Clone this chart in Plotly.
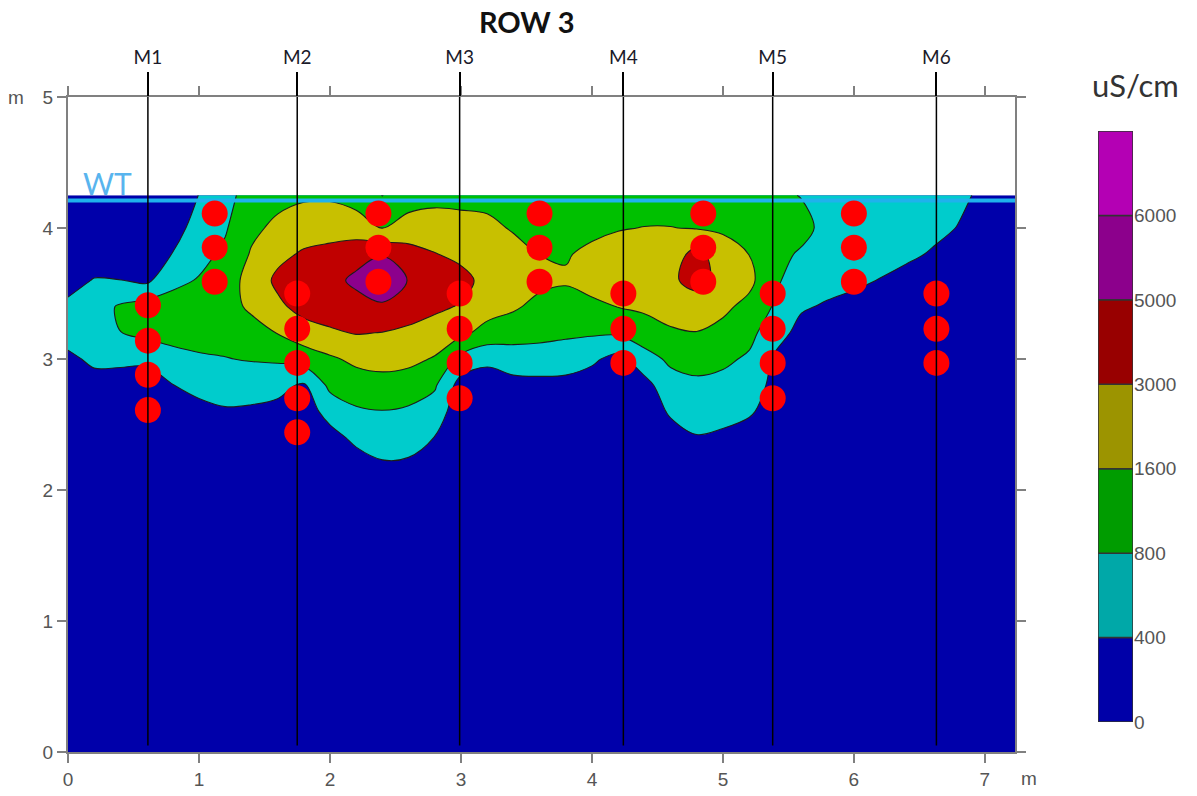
import numpy as np
import plotly.graph_objects as go

# ---- survey grid -------------------------------------------------------
# horizontal distance along the row (m)
dist_m = [0.0, 0.2, 0.4, 0.6, 0.8, 1.0, 1.2, 1.4, 1.6, 1.8, 2.0, 2.2, 2.4,
          2.6, 2.8, 3.0, 3.2, 3.4, 3.6, 3.8, 4.0, 4.2, 4.4, 4.6, 4.8, 5.0,
          5.2, 5.4, 5.6, 5.8, 6.0, 6.2, 6.4, 6.6, 6.8, 7.0, 7.25]
# grid levels (m above the base), listed top to bottom
level_m = [4.25, 4.0, 3.8, 3.6, 3.4, 3.2, 3.0, 2.8, 2.6, 2.4, 2.2, 2.0, 0.0]

# electrical conductivity (uS/cm), one list per grid level
ec_425 = [100, 100, 100, 100, 120, 408, 680, 1120, 1360, 1480, 1480, 1280, 792, 1320, 1400, 1400, 1400, 1200, 1160,
          1120, 1200, 1240, 1280, 1280, 1240, 1200, 1160, 1000, 780, 640, 620, 600, 560, 520, 460, 340, 240]
ec_400 = [100, 100, 112, 120, 240, 560, 764, 1424, 1908, 2370, 2482, 2258, 1560, 2034, 2160, 2020, 1866, 1544, 1400,
          1320, 1440, 1560, 1628, 1628, 1560, 1480, 1320, 1120, 1100, 640, 620, 580, 540, 480, 388, 280, 200]
ec_380 = [100, 208, 180, 200, 412, 692, 936, 1726, 2650, 3240, 3540, 4300, 4800, 3900, 3080, 2678, 2356, 1992, 1592,
          1544, 1866, 2104, 2230, 2370, 3600, 2230, 1592, 1080, 740, 600, 580, 520, 460, 372, 280, 200, 160]
ec_360 = [272, 420, 408, 320, 712, 848, 1200, 2132, 3400, 4200, 4400, 5200, 6300, 4840, 4100, 3600, 2580, 2342, 1950,
          1740, 2160, 2370, 2370, 2790, 3600, 2580, 1950, 920, 600, 520, 460, 388, 300, 240, 200, 160, 120]
ec_340 = [472, 632, 888, 1160, 1096, 1168, 1360, 1796, 2720, 3680, 3860, 4300, 4480, 3900, 3360, 2902, 2174, 1796,
          1376, 1288, 1416, 1628, 1838, 2076, 2356, 1880, 1384, 752, 440, 360, 300, 240, 200, 160, 140, 120, 100]
ec_320 = [532, 648, 796, 1008, 1048, 1064, 1056, 1352, 1642, 2398, 2832, 3100, 2972, 2748, 2412, 1894, 1336, 1144,
          1008, 936, 904, 912, 1232, 1512, 1576, 1384, 1032, 552, 280, 240, 200, 168, 140, 120, 120, 100, 100]
ec_300 = [332, 464, 476, 464, 684, 756, 788, 848, 904, 1144, 1480, 1908, 2062, 1936, 1536, 680, 480, 592, 636, 592,
          464, 280, 644, 944, 1072, 952, 744, 340, 200, 180, 152, 132, 120, 100, 100, 100, 100]
ec_280 = [200, 280, 240, 240, 392, 524, 580, 576, 528, 340, 992, 1216, 1328, 1232, 896, 240, 220, 280, 280, 280, 220,
          180, 260, 652, 724, 688, 580, 300, 152, 140, 120, 112, 100, 100, 100, 100, 100]
ec_260 = [120, 180, 160, 160, 240, 280, 360, 340, 280, 200, 548, 748, 788, 740, 616, 160, 140, 168, 168, 168, 140,
          128, 160, 452, 552, 512, 448, 240, 120, 120, 100, 100, 100, 100, 100, 100, 100]
ec_240 = [100, 120, 112, 112, 160, 180, 220, 220, 180, 140, 260, 492, 580, 548, 392, 120, 112, 120, 120, 120, 112,
          112, 120, 240, 380, 340, 240, 140, 100, 100, 100, 100, 100, 100, 100, 100, 100]
ec_220 = [100, 100, 100, 100, 112, 120, 140, 140, 120, 100, 160, 240, 368, 352, 220, 100, 100, 100, 100, 100, 100,
          100, 100, 140, 200, 180, 140, 100, 100, 100, 100, 100, 100, 100, 100, 100, 100]
ec_200 = [100, 100, 100, 100, 100, 100, 100, 100, 100, 100, 112, 140, 200, 200, 140, 100, 100, 100, 100, 100, 100,
          100, 100, 100, 120, 120, 100, 100, 100, 100, 100, 100, 100, 100, 100, 100, 100]
ec_000 = [100, 100, 100, 100, 100, 100, 100, 100, 100, 100, 100, 100, 100, 100, 100, 100, 100, 100, 100, 100, 100,
          100, 100, 100, 100, 100, 100, 100, 100, 100, 100, 100, 100, 100, 100, 100, 100]
ec_rows = [ec_425, ec_400, ec_380, ec_360, ec_340, ec_320, ec_300, ec_280,
           ec_260, ec_240, ec_220, ec_200, ec_000]

# class limits of the colour scale (uS/cm) and the upper cap of the last class
ec_limits = [0, 400, 800, 1600, 3000, 5000, 6000]
ec_cap = 7000

# probes along the row
probe_names = ["M1", "M2", "M3", "M4", "M5", "M6"]
probe_x = [0.61, 1.75, 2.99, 4.24, 5.38, 6.63]

# sampling points: position along the row and the levels sampled there
sample_x = [0.61, 1.12, 1.75, 2.37, 2.99, 3.60, 4.24, 4.85, 5.38, 6.00, 6.63]
sample_levels = [
    [3.41, 3.14, 2.88, 2.61],
    [4.11, 3.85, 3.59],
    [3.50, 3.23, 2.97, 2.70, 2.44],
    [4.11, 3.85, 3.59],
    [3.50, 3.23, 2.97, 2.70],
    [4.11, 3.85, 3.59],
    [3.50, 3.23, 2.97],
    [4.11, 3.85, 3.59],
    [3.50, 3.23, 2.97, 2.70],
    [4.11, 3.85, 3.59],
    [3.50, 3.23, 2.97],
]

water_table_m = 4.21

# ---- styling -----------------------------------------------------------
fill_colors = ["#0000AA", "#00CCCC", "#00C000", "#C8C000", "#C00000", "#8C008C", "#FF00FF"]
legend_colors = ["#0000A8", "#00A8A8", "#009C00", "#9C9400", "#980000", "#8C008C", "#B400B4"]
x_max = 7.23
y_max = 5.0
frame_col = "#808080"
tick_font = dict(family="Liberation Sans, Arial, sans-serif", size=19, color="#555555")
label_font = "Lato, 'Open Sans', sans-serif"

# ---- class index (equal steps on the colour bar) -------------------------
class_edges = ec_limits + [ec_cap]
class_idx = np.interp(np.array(ec_rows[::-1], dtype=float),
                      class_edges, np.arange(len(class_edges)))
levels_up = level_m[::-1]
n_cls = len(ec_limits)

fig = go.Figure()

fig.add_trace(go.Contour(
    x=dist_m, y=levels_up, z=class_idx,
    autocontour=False,
    contours=dict(start=1, end=n_cls - 1, size=1, coloring="fill", showlines=True),
    colorscale=[[i / (n_cls - 1), c] for i, c in enumerate(fill_colors)],
    line=dict(color="#1c1c1c", width=1.1, smoothing=1.0),
    showscale=False, hoverinfo="skip",
))

# probe lines (drawn on the top axis, which carries the probe names)
px_line, py_line = [], []
for p in probe_x:
    px_line += [p, p, None]
    py_line += [0.05, y_max, None]
fig.add_trace(go.Scatter(
    x=px_line, y=py_line, mode="lines", xaxis="x2", yaxis="y",
    line=dict(color="#000000", width=1.5), hoverinfo="skip", showlegend=False,
))

# water table
fig.add_trace(go.Scatter(
    x=[0, x_max], y=[water_table_m, water_table_m], mode="lines",
    line=dict(color="#1FB2EC", width=4), hoverinfo="skip", showlegend=False,
))

# sampling points
dot_x = [sx for sx, lv in zip(sample_x, sample_levels) for _ in lv]
dot_y = [v for lv in sample_levels for v in lv]
fig.add_trace(go.Scatter(
    x=dot_x, y=dot_y, mode="markers",
    marker=dict(color="#FF0000", size=26, line=dict(width=0)),
    hoverinfo="skip", showlegend=False,
))

# colour bar built from the class limits
fig.add_trace(go.Bar(
    x=["ec"] * n_cls, y=[1] * n_cls, base=list(range(n_cls)), width=1,
    marker=dict(color=legend_colors, line=dict(color="#333333", width=1.5)),
    xaxis="x3", yaxis="y3", hoverinfo="skip", showlegend=False,
))

plot_w = 1197 - 68 - 20
plot_h = 796 - 97 - 44
main_right = (1015 - 68) / plot_w


def px_x(p):
    return (p - 68) / plot_w


def px_y(p):
    return (752 - p) / plot_h


fig.update_layout(
    width=1197, height=796,
    margin=dict(l=68, r=20, t=97, b=44),
    paper_bgcolor="white", plot_bgcolor="white",
    showlegend=False,
    xaxis=dict(domain=[0, main_right], range=[0, x_max], tickvals=list(range(8)),
               ticks="outside", ticklen=9, tickwidth=2, tickcolor=frame_col,
               showline=True, linecolor=frame_col, linewidth=2, mirror="ticks",
               showgrid=False, zeroline=False, tickfont=tick_font, automargin=False),
    xaxis2=dict(overlaying="x", side="top", anchor="y", range=[0, x_max],
                tickvals=probe_x, ticktext=probe_names, ticks="outside",
                ticklen=24, tickwidth=1.5, tickcolor="#000000",
                showline=False, showgrid=False, zeroline=False, automargin=False,
                tickfont=dict(family=label_font, size=19, color="#1a1a2a")),
    yaxis=dict(domain=[0, 1], range=[0, y_max], tickvals=list(range(6)),
               ticks="outside", ticklen=9, tickwidth=2, tickcolor=frame_col,
               showline=True, linecolor=frame_col, linewidth=2, mirror="ticks",
               showgrid=False, zeroline=False, tickfont=tick_font, automargin=False),
    xaxis3=dict(domain=[px_x(1098), px_x(1133)], anchor="y3",
                range=[-0.5, 0.5], visible=False, type="category", automargin=False),
    yaxis3=dict(domain=[px_y(722), px_y(131)], anchor="x3",
                range=[0, n_cls], side="right", tickvals=list(range(n_cls)),
                ticktext=[str(v) for v in ec_limits], ticks="", showline=False,
                showgrid=False, zeroline=False, tickfont=tick_font, automargin=False),
    annotations=[
        dict(text="<b>ROW 3</b>", x=px_x(527), y=px_y(22),
             xref="paper", yref="paper", xanchor="center", yanchor="middle",
             showarrow=False, font=dict(family=label_font, size=29, color="#111111")),
        dict(text="uS/cm", x=px_x(1135), y=px_y(85),
             xref="paper", yref="paper", xanchor="center", yanchor="middle",
             showarrow=False, font=dict(family=label_font, size=31, color="#333333")),
        dict(text="WT", x=0.1, y=water_table_m - 0.02, xref="x", yref="y",
             xanchor="left", yanchor="bottom", showarrow=False,
             font=dict(family=label_font, size=30, color="#58B4EE")),
        dict(text="m", x=px_x(16), y=px_y(97), xref="paper", yref="paper",
             xanchor="center", yanchor="middle", showarrow=False, font=tick_font),
        dict(text="m", x=px_x(1029), y=px_y(778),
             xref="paper", yref="paper", xanchor="center", yanchor="middle",
             showarrow=False, font=tick_font),
    ],
)

fig.write_html("out.html")
